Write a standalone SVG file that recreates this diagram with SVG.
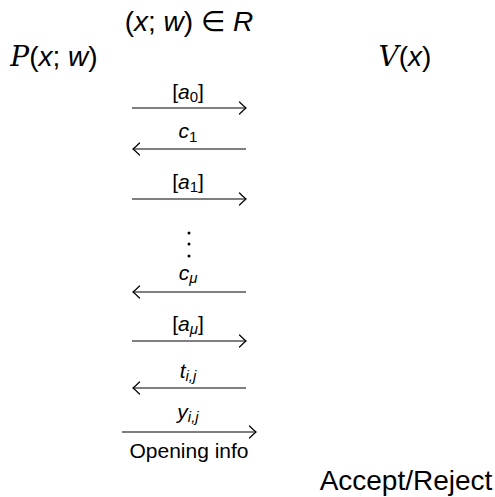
<svg xmlns="http://www.w3.org/2000/svg" width="495" height="497" viewBox="0 0 495 497">
<style>
text{font-family:"Liberation Sans","DejaVu Sans",sans-serif;fill:#000}
.big{font-size:28px}
.lab{font-size:21px;text-anchor:middle}
.i{font-style:italic}
.cal{font-family:"DejaVu Serif","Liberation Serif",serif;font-style:italic}
.sub{font-size:15px}
.sym{font-family:"DejaVu Sans",sans-serif}
.arr{stroke:#000;stroke-width:1.2;fill:none}
</style>
<defs>
<marker id="ah" viewBox="-8 -7 10 14" markerWidth="10" markerHeight="14" refX="0" refY="0" orient="auto-start-reverse" markerUnits="userSpaceOnUse">
<path d="M-6.5,-6 Q-2,-1.5 0,0 Q-2,1.5 -6.5,6" stroke="#000" stroke-width="1.2" fill="none" stroke-linecap="round"/>
</marker>
</defs>
<rect width="495" height="497" fill="#fff"/>
<g id="prover"><text class="big" x="54" y="66" text-anchor="middle"><tspan class="cal">P</tspan>(<tspan class="i">x</tspan>; <tspan class="i">w</tspan>)</text></g>
<g id="relation"><text class="big" x="189" y="31" text-anchor="middle">(<tspan class="i">x</tspan>; <tspan class="i">w</tspan>) <tspan class="sym">∈</tspan> <tspan class="i">R</tspan></text></g>
<g id="verifier"><text class="big" x="405" y="66" text-anchor="middle"><tspan class="cal">V</tspan>(<tspan class="i">x</tspan>)</text></g>
<g id="decision"><text class="big" x="406" y="490" text-anchor="middle">Accept/Reject</text></g>
<g id="connectors">
<line class="arr" x1="132" y1="108" x2="246" y2="108" marker-end="url(#ah)"/>
<line class="arr" x1="133" y1="149" x2="246" y2="149" marker-start="url(#ah)"/>
<line class="arr" x1="132" y1="199" x2="246" y2="199" marker-end="url(#ah)"/>
<line class="arr" x1="133" y1="292" x2="246" y2="292" marker-start="url(#ah)"/>
<line class="arr" x1="132" y1="341" x2="246" y2="341" marker-end="url(#ah)"/>
<line class="arr" x1="133" y1="388" x2="246" y2="388" marker-start="url(#ah)"/>
<line class="arr" x1="122" y1="432" x2="256" y2="432" marker-end="url(#ah)"/>
</g>
<g id="labels">
<text class="lab" x="188" y="99">[<tspan class="i">a</tspan><tspan class="sub" dy="3">0</tspan><tspan dy="-3">]</tspan></text>
<text class="lab" x="188" y="138"><tspan class="i">c</tspan><tspan class="sub" dy="4">1</tspan></text>
<text class="lab" x="188" y="189">[<tspan class="i">a</tspan><tspan class="sub" dy="3">1</tspan><tspan dy="-3">]</tspan></text>
<circle cx="189" cy="233" r="1.5"/>
<circle cx="189" cy="244" r="1.5"/>
<circle cx="189" cy="256" r="1.5"/>
<text class="lab" x="188" y="280"><tspan class="i">c</tspan><tspan class="sub i" dy="3">μ</tspan></text>
<text class="lab" x="188" y="331">[<tspan class="i">a</tspan><tspan class="sub i" dy="3">μ</tspan><tspan dy="-3">]</tspan></text>
<text class="lab" x="188" y="378"><tspan class="i">t</tspan><tspan class="sub i" dy="3">i,j</tspan></text>
<text class="lab" x="188" y="419"><tspan class="i">y</tspan><tspan class="sub i" dy="3">i,j</tspan></text>
<text class="lab" x="189" y="458" style="font-size:21px">Opening info</text>
</g>
</svg>
